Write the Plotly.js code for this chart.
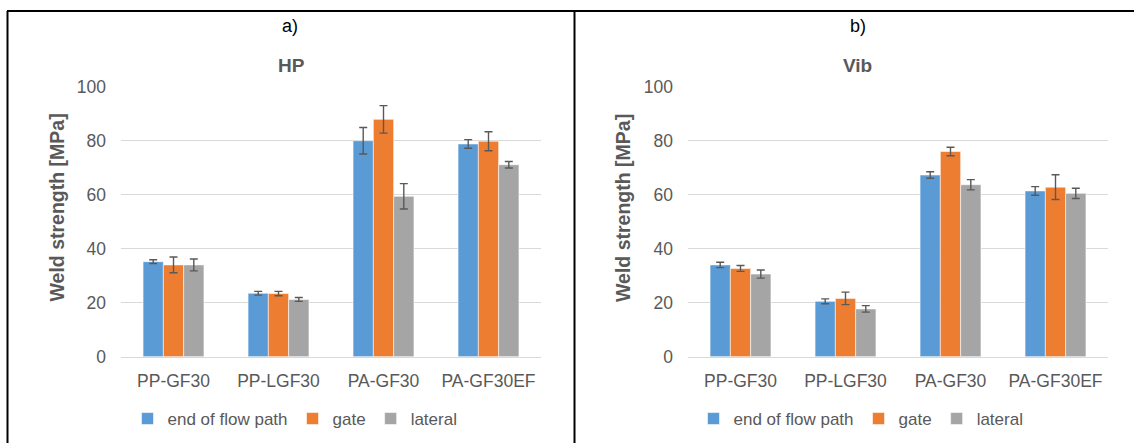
<!DOCTYPE html>
<html>
<head>
<meta charset="utf-8">
<script src="https://cdn.plot.ly/plotly-3.0.1.min.js"></script>
<style>html,body{margin:0;padding:0;background:#fff;}#chart{width:1134px;height:443px;}</style>
</head>
<body>
<div id="chart"></div>
<script>
// ---- data ----
const categories = ["PP-GF30", "PP-LGF30", "PA-GF30", "PA-GF30EF"];
const seriesNames = ["end of flow path", "gate", "lateral"];
const seriesColors = ["#5B9BD5", "#ED7D31", "#A5A5A5"];

// a) HP
const hpEndOfFlow    = [35.2, 23.5, 80.0, 78.8];
const hpEndOfFlowErr = [0.7, 0.7, 4.9, 1.6];
const hpGate         = [34.0, 23.4, 87.9, 79.8];
const hpGateErr      = [2.9, 0.8, 5.1, 3.5];
const hpLateral      = [34.0, 21.2, 59.4, 71.1];
const hpLateralErr   = [2.2, 0.7, 4.7, 1.2];

// b) Vib
const vibEndOfFlow    = [34.0, 20.5, 67.3, 61.4];
const vibEndOfFlowErr = [1.0, 0.9, 1.2, 1.6];
const vibGate         = [32.7, 21.6, 76.0, 62.8];
const vibGateErr      = [1.1, 2.3, 1.6, 4.6];
const vibLateral      = [30.6, 17.7, 63.7, 60.5];
const vibLateralErr   = [1.5, 1.2, 1.9, 1.9];

const panelLabels = ["a)", "b)"];
const panelTitles = ["HP", "Vib"];
const yTitle = "Weld strength [MPa]";

// ---- layout helpers ----
const W = 1134, H = 443;
const px = v => v / W;
const py = v => 1 - v / H;
const FONT = "Arial, 'Liberation Sans', sans-serif";
const GREY = "#595959";

function barTrace(name, color, y, err, xa, ya, legend) {
  return {
    type: "bar", name: name, x: categories, y: y,
    xaxis: xa, yaxis: ya, legend: legend,
    marker: {color: color, line: {color: "rgba(255,255,255,0.55)", width: 1}},
    error_y: {type: "data", array: err, visible: true, color: GREY, thickness: 1.4, width: 4},
    hoverinfo: "x+y"
  };
}

const hpSeries = [hpEndOfFlow, hpGate, hpLateral];
const hpErrs = [hpEndOfFlowErr, hpGateErr, hpLateralErr];
const vibSeries = [vibEndOfFlow, vibGate, vibLateral];
const vibErrs = [vibEndOfFlowErr, vibGateErr, vibLateralErr];

const traces = [];
seriesNames.forEach((n, i) => traces.push(barTrace(n, seriesColors[i], hpSeries[i], hpErrs[i], "x", "y", "legend")));
seriesNames.forEach((n, i) => traces.push(barTrace(n, seriesColors[i], vibSeries[i], vibErrs[i], "x2", "y2", "legend2")));

const yDomain = [py(356.7), py(86.7)];

function xAxis(domain, anchor) {
  return {
    domain: domain, anchor: anchor, type: "category",
    showline: true, linecolor: "#d9d9d9", linewidth: 1.3,
    ticks: "", showgrid: false, zeroline: false,
    tickfont: {family: FONT, size: 17.5, color: GREY},
    ticklabelstandoff: 8, fixedrange: true
  };
}
function yAxis(anchor) {
  return {
    domain: yDomain, anchor: anchor, range: [0, 100], dtick: 20,
    showline: false, ticks: "", zeroline: false,
    showgrid: true, gridcolor: "#d9d9d9", gridwidth: 1.3,
    tickfont: {family: FONT, size: 17.5, color: GREY},
    ticklabelstandoff: 14, fixedrange: true
  };
}

const legendCommon = {
  orientation: "h", xanchor: "center", yanchor: "middle",
  font: {family: FONT, size: 17, color: GREY},
  bgcolor: "rgba(0,0,0,0)", itemwidth: 30, itemclick: false, itemdoubleclick: false,
  tracegroupgap: 0
};

const annotations = [
  {text: panelLabels[0], x: px(290), y: py(26), font: {family: FONT, size: 18, color: "#000"}},
  {text: panelLabels[1], x: px(857.5), y: py(26), font: {family: FONT, size: 18, color: "#000"}},
  {text: "<b>" + panelTitles[0] + "</b>", x: px(291), y: py(65), font: {family: FONT, size: 19, color: GREY}},
  {text: "<b>" + panelTitles[1] + "</b>", x: px(857.5), y: py(65), font: {family: FONT, size: 19, color: GREY}},
  {text: "<b>" + yTitle + "</b>", x: px(56.5), y: py(208), textangle: -90, font: {family: FONT, size: 19.5, color: GREY}},
  {text: "<b>" + yTitle + "</b>", x: px(623), y: py(208), textangle: -90, font: {family: FONT, size: 19.5, color: GREY}}
].map(a => Object.assign({xref: "paper", yref: "paper", showarrow: false, xanchor: "center", yanchor: "middle"}, a));

const frame = {type: "line", xref: "paper", yref: "paper", line: {color: "#000", width: 2}};
const shapes = [
  Object.assign({x0: px(7), x1: 1, y0: py(11), y1: py(11)}, frame),
  Object.assign({x0: px(7.5), x1: px(7.5), y0: py(11), y1: 0}, frame),
  Object.assign({x0: px(574.5), x1: px(574.5), y0: py(11), y1: 0}, frame)
];

const layout = {
  width: W, height: H,
  margin: {l: 0, r: 0, t: 0, b: 0},
  paper_bgcolor: "#fff", plot_bgcolor: "#fff",
  barmode: "group", bargap: 0.42, bargroupgap: 0,
  font: {family: FONT, color: GREY},
  xaxis: xAxis([px(121), px(541)], "y"),
  yaxis: yAxis("x"),
  xaxis2: xAxis([px(688), px(1108)], "y2"),
  yaxis2: yAxis("x2"),
  legend: Object.assign({x: px(295), y: py(419)}, legendCommon),
  legend2: Object.assign({x: px(861), y: py(419)}, legendCommon),
  annotations: annotations,
  shapes: shapes,
  showlegend: true
};

Plotly.newPlot("chart", traces, layout, {displayModeBar: false, staticPlot: false});
</script>
</body>
</html>
